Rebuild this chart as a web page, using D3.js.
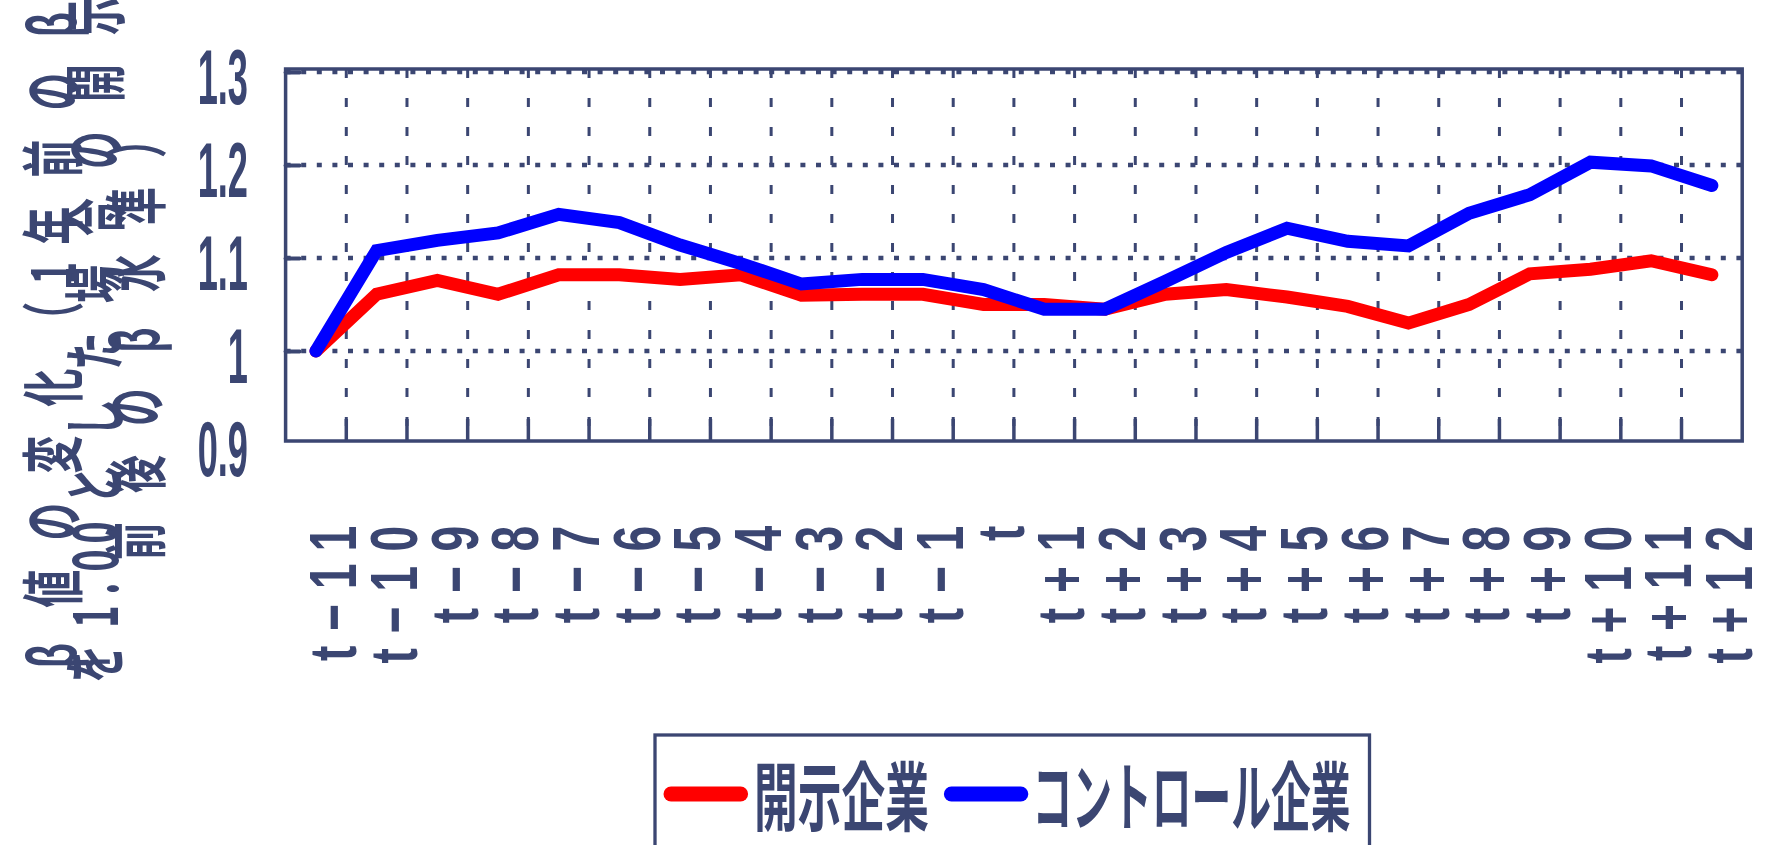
<!DOCTYPE html>
<html>
<head>
<meta charset="utf-8">
<script src="https://cdn.jsdelivr.net/npm/d3@7"></script>
<style>
  html, body { margin: 0; padding: 0; background: #ffffff; }
  svg { display: block; }
</style>
</head>
<body>
<svg id="chart" width="1765" height="845"></svg>
<script>
// ---- data ----
const categories = ["t-11","t-10","t-9","t-8","t-7","t-6","t-5","t-4","t-3","t-2","t-1","t",
                    "t+1","t+2","t+3","t+4","t+5","t+6","t+7","t+8","t+9","t+10","t+11","t+12"];
const disclosedFirms = [1.000, 1.061, 1.076, 1.061, 1.082, 1.082, 1.077, 1.082, 1.060, 1.061, 1.061, 1.050,
                        1.050, 1.045, 1.061, 1.066, 1.058, 1.048, 1.030, 1.050, 1.083, 1.088, 1.097, 1.082];
const controlFirms   = [1.000, 1.108, 1.119, 1.127, 1.147, 1.138, 1.114, 1.094, 1.072, 1.077, 1.077, 1.066,
                        1.045, 1.045, 1.075, 1.106, 1.132, 1.118, 1.113, 1.148, 1.168, 1.203, 1.199, 1.178];
const yTickValues = [0.9, 1.0, 1.1, 1.2, 1.3];
const yTickLabels = ["0.9", "1", "1.1", "1.2", "1.3"];
const gridValues  = [1.0, 1.1, 1.2, 1.3];
const yTitleLines = ["β値の変化（1年前のβ", "を1.00とした場合の開示", "前後のβ水準）"];
const seriesNames = ["開示企業", "コントロール企業"];
const seriesColors = ["#ff0000", "#0000ff"];

// ---- layout ----
const NAVY = "#3b4672";
const plot = { left: 285.6, right: 1742.2, top: 69, bottom: 441 };
const svg = d3.select("#chart");

const x = d3.scaleBand().domain(categories).range([plot.left, plot.right]).padding(0);
const y = d3.scaleLinear().domain([0.9, 1.3]).range([444, 72]);
const cx = c => x(c) + x.bandwidth() / 2;

// horizontal dotted gridlines
svg.append("g").selectAll("line").data(gridValues).join("line")
  .attr("x1", plot.left).attr("x2", plot.right)
  .attr("y1", d => y(d)).attr("y2", d => y(d))
  .attr("stroke", NAVY).attr("stroke-width", 4.7)
  .attr("stroke-dasharray", "5 10.6");

// vertical dashed gridlines at category boundaries
const boundaries = categories.slice(1);
svg.append("g").selectAll("line").data(boundaries).join("line")
  .attr("x1", d => x(d)).attr("x2", d => x(d))
  .attr("y1", plot.top).attr("y2", plot.bottom)
  .attr("stroke", NAVY).attr("stroke-width", 3)
  .attr("stroke-dasharray", "9 20");

// inward tick marks on the category axis
svg.append("g").selectAll("line").data(boundaries).join("line")
  .attr("x1", d => x(d)).attr("x2", d => x(d))
  .attr("y1", plot.bottom).attr("y2", plot.bottom - 22)
  .attr("stroke", NAVY).attr("stroke-width", 3.5);

// plot frame
svg.append("rect")
  .attr("x", plot.left).attr("y", plot.top)
  .attr("width", plot.right - plot.left).attr("height", plot.bottom - plot.top)
  .attr("fill", "none").attr("stroke", NAVY).attr("stroke-width", 3.5);

// value axis
const yAxis = d3.axisLeft(y).tickValues(yTickValues)
  .tickFormat((d, i) => yTickLabels[i]).tickSizeInner(-14).tickSizeOuter(0).tickPadding(37.6);
const yg = svg.append("g").attr("transform", `translate(${plot.left},0)`).call(yAxis);
yg.select(".domain").remove();
yg.selectAll(".tick line")
  .attr("stroke", NAVY).attr("stroke-width", 4).attr("stroke-linecap", "round")
  .attr("display", d => d === yTickValues[0] ? "none" : null);
yg.selectAll(".tick text")
  .attr("x", 0).attr("dy", null)
  .attr("transform", "translate(-37.6,5) scale(0.47,1)")
  .attr("dominant-baseline", "central")
  .attr("text-anchor", "end")
  .attr("fill", NAVY)
  .style("font-family", "'Liberation Sans', Arial, sans-serif")
  .style("font-weight", "bold")
  .style("font-size", "77px");

// category axis labels (rotated); the hyphen is set as a typographic minus
const xAxis = d3.axisBottom(x).tickSize(0).tickPadding(0)
  .tickFormat(d => d.replace("-", "\u2212"));
const xg = svg.append("g").attr("transform", `translate(0,${plot.bottom})`).call(xAxis);
xg.select(".domain").remove();
xg.selectAll(".tick text")
  .attr("x", 0).attr("y", 0).attr("dy", null)
  .attr("transform", "translate(17,70) rotate(-90) scale(0.7,1)")
  .attr("text-anchor", "end")
  .attr("dominant-baseline", "central")
  .attr("fill", NAVY)
  .style("letter-spacing", "21px")
  .style("font-family", "'Liberation Sans', Arial, sans-serif")
  .style("font-weight", "bold")
  .style("font-size", "66px");

// series lines
const line = d3.line().x((d, i) => cx(categories[i])).y(d => y(d));
[disclosedFirms, controlFirms].forEach((vals, k) => {
  svg.append("path").datum(vals)
    .attr("d", line)
    .attr("fill", "none")
    .attr("stroke", seriesColors[k])
    .attr("stroke-width", 13)
    .attr("stroke-linejoin", "miter")
    .attr("stroke-miterlimit", 10)
    .attr("stroke-linecap", "round");
});

// value-axis title: three rotated lines, laid out glyph by glyph
const titleG = svg.append("g")
  .attr("fill", NAVY)
  .style("font-family", "'Noto Sans CJK JP', sans-serif")
  .style("font-weight", "bold")
  .style("font-size", "63px");
const titleCols = [49, 91, 132], titleMid = 340, fullAdv = 67, halfAdv = 28;
yTitleLines.forEach((str, i) => {
  const chars = Array.from(str);
  const adv = chars.map(ch => ch.charCodeAt(0) < 128 ? halfAdv : fullAdv);
  const total = d3.sum(adv);
  let acc = 0;
  chars.forEach((ch, j) => {
    const c = acc + adv[j] / 2;
    acc += adv[j];
    titleG.append("text")
      .attr("transform", `translate(${titleCols[i]},${titleMid + total / 2 - c}) rotate(-90) scale(0.6,1)`)
      .attr("text-anchor", "middle")
      .attr("dominant-baseline", "central")
      .text(ch);
  });
});

// legend
const legend = svg.append("g");
legend.append("rect")
  .attr("x", 655).attr("y", 735).attr("width", 714.5).attr("height", 160)
  .attr("fill", "#ffffff").attr("stroke", NAVY).attr("stroke-width", 3.3);
const legendItems = [
  { x1: 664, x2: 747.6, tx: 754, len: 175 },
  { x1: 944.4, x2: 1027.8, tx: 1032.6, len: 318 }
];
legendItems.forEach((it, k) => {
  legend.append("line")
    .attr("x1", it.x1 + 7).attr("x2", it.x2 - 7).attr("y1", 794).attr("y2", 794)
    .attr("stroke", seriesColors[k]).attr("stroke-width", 15).attr("stroke-linecap", "round");
  legend.append("text")
    .attr("x", it.tx).attr("y", 825)
    .attr("textLength", it.len).attr("lengthAdjust", "spacingAndGlyphs")
    .attr("fill", NAVY)
    .style("font-family", "'Noto Sans CJK JP', sans-serif")
    .style("font-weight", "bold")
    .style("font-size", "75px")
    .text(seriesNames[k]);
});
</script>
</body>
</html>
